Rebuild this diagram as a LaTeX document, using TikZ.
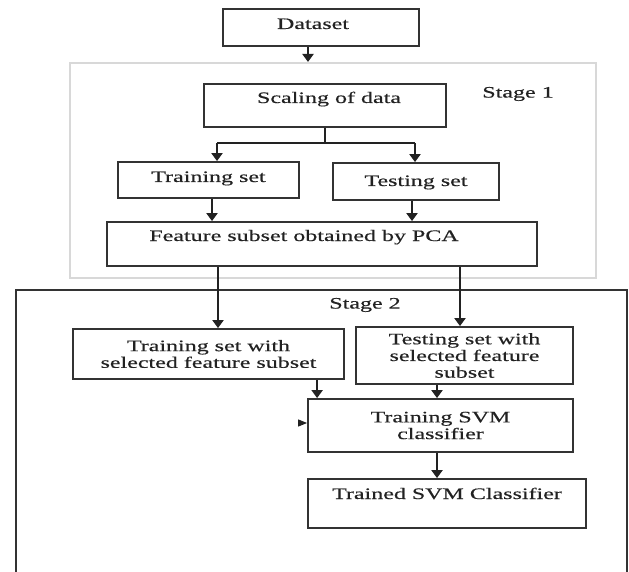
\documentclass[tikz,border=0pt]{standalone}
\usepackage{fontspec}
\setmainfont{Liberation Serif}[FakeStretch=1.5,FakeBold=0.4]
\usetikzlibrary{arrows.meta,calc}
\definecolor{ink}{HTML}{222222}
\definecolor{frame}{HTML}{333333}
\definecolor{pale}{HTML}{D8D8D8}

\begin{document}
\begin{tikzpicture}[x=1pt,y=-1pt,
  font={\fontsize{16}{16.7}\selectfont},
  blk/.style={draw=frame,line width=1.8pt,inner sep=0pt,text=ink},
  arr/.style={draw=ink,line width=2.2pt,-{Triangle[width=11pt,length=8pt]}},
  wire/.style={draw=ink,line width=1.8pt}]
\useasboundingbox (0,0) rectangle (629,572);
% stage frames
\node[draw=pale,line width=2pt,minimum width=526pt,minimum height=215pt] (stage1) at (333,170.5) {};
\draw[frame,line width=1.8pt] (16,572) |- (627,290) -- (627,572);
\node[text=ink] (lab1) at (518,94) {Stage 1};
\node[text=ink] (lab2) at (365,305) {Stage 2};
% boxes
\node[blk,minimum width=196pt,text height=20pt,text depth=17pt] (data) at (321,27.5) {Dataset\hspace*{16pt}};
\node[blk,minimum width=242pt,text height=19pt,text depth=24pt] (scale) at (325,105.5) {\hspace*{8pt}Scaling of data};
\node[blk,minimum width=181pt,text height=20pt,text depth=16pt] (train) at (208.5,180) {Training set};
\node[blk,minimum width=166pt,text height=23pt,text depth=14pt] (test) at (416,181.5) {Testing set};
\node[blk,minimum width=430pt,text height=19pt,text depth=25pt] (pca) at (322,244) {Feature subset obtained by PCA\hspace*{36pt}};
\node[blk,align=center,minimum width=271pt,minimum height=50pt] (trsel) at (208.5,354) {Training set with\\selected feature subset};
\node[blk,align=center,minimum width=217pt,minimum height=57pt] (tesel) at (464.5,355.5) {Testing set with\\selected feature\\subset};
\node[blk,align=center,minimum width=265pt,minimum height=53pt] (svm) at (440.5,425.5) {Training SVM\\classifier};
\node[blk,minimum width=278pt,text height=20pt,text depth=29pt] (done) at (447,503.5) {Trained SVM Classifier};
% connectors
\draw[arr] ([xshift=-13pt]data.south) -- ([xshift=-13pt]data.south |- stage1.north);
\coordinate (bl) at (217,143);
\coordinate (br) at (415,143);
\draw[wire] (scale.south) -- (scale.south |- bl);
\draw[wire] (bl) -- (br);
\draw[arr] (bl) -- (bl |- train.north);
\draw[arr] (br) -- (br |- test.north);
\draw[arr] ([xshift=3.5pt]train.south) -- ([xshift=3.5pt]train.south |- pca.north);
\draw[arr] ([xshift=-4pt]test.south) -- ([xshift=-4pt]test.south |- pca.north);
\draw[arr] ([xshift=9.5pt]trsel.north |- pca.south) -- ([xshift=9.5pt]trsel.north);
\draw[arr] ([xshift=-4.5pt]tesel.north |- pca.south) -- ([xshift=-4.5pt]tesel.north);
\draw[arr] ([xshift=10pt]svm.north west |- trsel.south) -- ([xshift=10pt]svm.north west);
\draw[arr] ([xshift=-3.5pt]svm.north |- tesel.south) -- ([xshift=-3.5pt]svm.north);
\draw[arr] ([xshift=-3.5pt]svm.south) -- ([xshift=-3.5pt]svm.south |- done.north);
\coordinate (stub) at (299,423);
\draw[draw=ink,line width=1pt,-{Triangle[width=7pt,length=9pt]}] (stub) -- (stub -| svm.west);
\end{tikzpicture}
\end{document}
